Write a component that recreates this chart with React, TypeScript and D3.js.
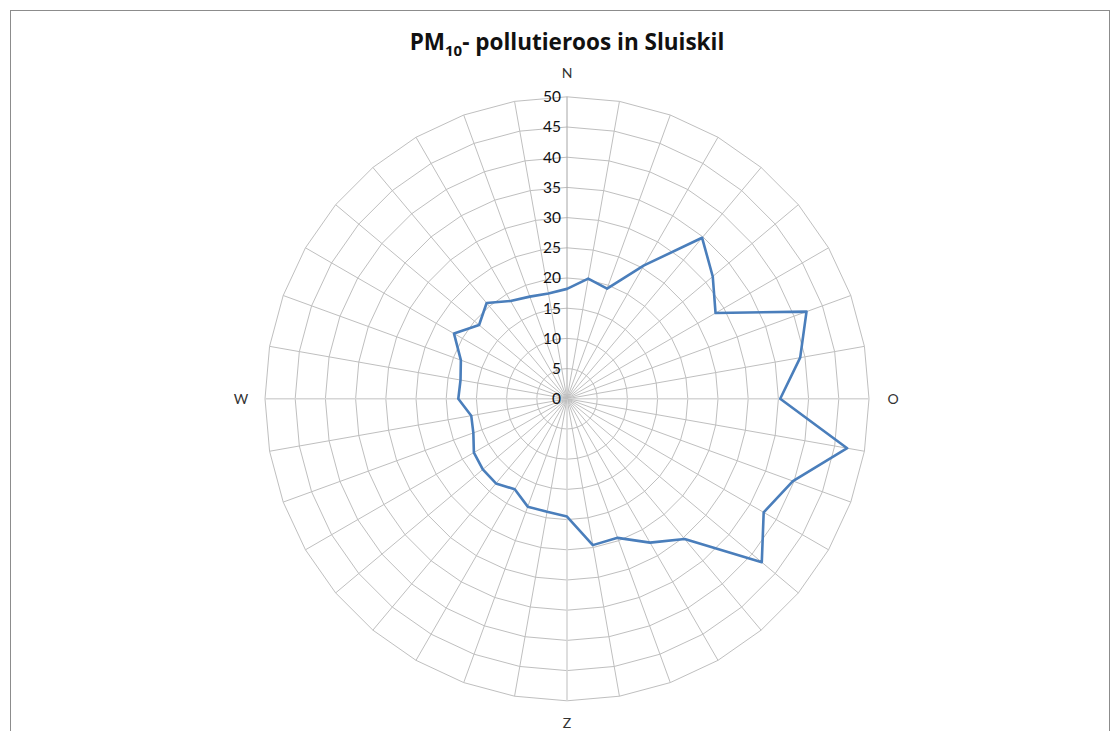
import React, { useRef, useEffect } from "react";
import * as d3 from "d3";

// PM10 concentration per wind direction, every 10 degrees starting at north, clockwise
const directions = [
  "N", "", "", "", "", "", "", "", "",
  "O", "", "", "", "", "", "", "", "",
  "Z", "", "", "", "", "", "", "", "",
  "W", "", "", "", "", "", "", "", "",
];
const pm10 = [
  18.2, 20.2, 19.4, 25.5, 34.8, 31.5, 28.4, 42.2, 39.2,
  35.3, 47.1, 39.8, 37.6, 42.1, 30.3, 27.5, 24.5, 24.6,
  19.5, 19.0, 19.0, 17.3, 18.3, 18.2, 17.8, 16.5, 16.1,
  18.0, 17.9, 18.7, 21.6, 19.0, 20.7, 18.7, 18.0, 17.7,
];
const ticks = [0, 5, 10, 15, 20, 25, 30, 35, 40, 45, 50];

const App = () => {
  const ref = useRef(null);

  useEffect(() => {
    const svg = d3.select(ref.current);
    svg.selectAll("*").remove();

    const cx = 567;
    const cy = 398.8;
    const radius = 302;
    const n = pm10.length;

    svg.append("rect")
      .attr("x", 10.5)
      .attr("y", 10.5)
      .attr("width", 1099)
      .attr("height", 740)
      .attr("fill", "white")
      .attr("stroke", "#8c8c8c")
      .attr("stroke-width", 1);

    svg.append("text")
      .attr("x", cx)
      .attr("y", 50)
      .attr("text-anchor", "middle")
      .attr("font-family", "'Open Sans', sans-serif")
      .attr("font-weight", "bold")
      .attr("font-size", 22.5)
      .attr("fill", "#111")
      .call((t) => {
        t.append("tspan").text("PM");
        t.append("tspan").attr("font-size", 15).attr("dy", 6).text("10");
        t.append("tspan").attr("dy", -6).text("- pollutieroos in Sluiskil");
      });

    const r = d3.scaleLinear().domain([0, 50]).range([0, radius]);
    const angle = d3.scaleLinear().domain([0, n]).range([0, 2 * Math.PI]);

    const g = svg.append("g").attr("transform", `translate(${cx},${cy})`);

    // rings
    const ring = d3.lineRadial()
      .angle((d, i) => angle(i))
      .radius((d) => d)
      .curve(d3.curveLinearClosed);

    ticks.slice(1).forEach((t) => {
      g.append("path")
        .attr("d", ring(d3.range(n).map(() => r(t))))
        .attr("fill", "none")
        .attr("stroke", "#bfbfbf")
        .attr("stroke-width", 1);
    });

    // spokes
    g.selectAll("line.spoke")
      .data(d3.range(n))
      .join("line")
      .attr("class", "spoke")
      .attr("x1", 0)
      .attr("y1", 0)
      .attr("x2", (i) => r(50) * Math.sin(angle(i)))
      .attr("y2", (i) => -r(50) * Math.cos(angle(i)))
      .attr("stroke", (i) => (i === 0 ? "#a6a6a6" : i % 9 === 0 ? "#d6d6d6" : "#bfbfbf"))
      .attr("stroke-width", (i) => (i % 9 === 0 && i !== 0 ? 1.6 : 1));

    // direction labels
    g.selectAll("text.dir")
      .data(directions)
      .join("text")
      .attr("class", "dir")
      .attr("x", (d, i) => (r(50) + 24) * Math.sin(angle(i)))
      .attr("y", (d, i) => -(r(50) + (i === 18 ? 22 : 24)) * Math.cos(angle(i)))
      .attr("dy", "0.35em")
      .attr("text-anchor", "middle")
      .attr("font-family", "Lato, sans-serif")
      .attr("font-size", 14)
      .attr("fill", "#333")
      .text((d) => d);

    // value axis labels
    g.selectAll("text.tick")
      .data(ticks)
      .join("text")
      .attr("class", "tick")
      .attr("x", -6)
      .attr("y", (d) => -r(d))
      .attr("dy", "0.35em")
      .attr("text-anchor", "end")
      .attr("font-family", "Lato, sans-serif")
      .attr("font-size", 15.5)
      .attr("fill", "#111")
      .text((d) => d);

    // series
    const area = d3.lineRadial()
      .angle((d, i) => angle(i))
      .radius((d) => r(d))
      .curve(d3.curveLinearClosed);

    g.append("path")
      .datum(pm10)
      .attr("d", area)
      .attr("fill", "none")
      .attr("stroke", "#4a7ebb")
      .attr("stroke-width", 2.6)
      .attr("stroke-linejoin", "round");
  }, []);

  return (
    <svg
      ref={ref}
      width={1120}
      height={731}
      style={{ position: "absolute", left: 0, top: 0, background: "white" }}
    />
  );
};

export default App;
